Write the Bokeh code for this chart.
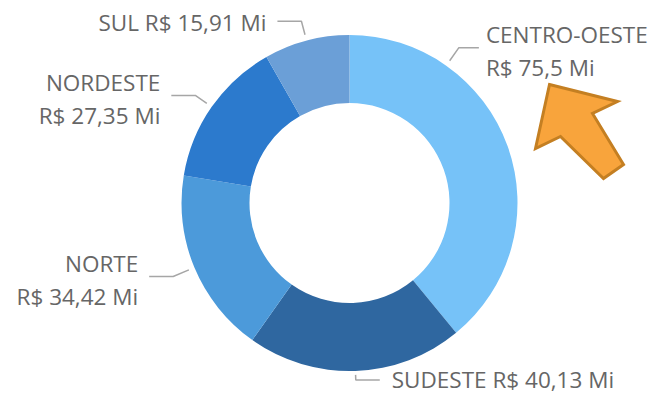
import numpy as np
from bokeh.plotting import figure
from bokeh.models import Range1d, ColumnDataSource
from bokeh.core.properties import value
from bokeh.embed import file_html
from bokeh.resources import INLINE

# ---- data ----
regions = ["CENTRO-OESTE", "SUDESTE", "NORTE", "NORDESTE", "SUL"]
values = [75.5, 40.13, 34.42, 27.35, 15.91]
colors = ["#76C2F8", "#2F67A0", "#4C9ADA", "#2C7ACD", "#6B9FD7"]

# ---- layout / style ----
W, H = 648, 395
CX, CY = 349, 206.5          # donut centre (reference pixels)
DY = 4                        # small upward shift so every label fits
R_OUT, R_IN = 168, 100
label_wrap = [True, False, True, True, False]
leader_pos = [0.25, 0.5, 0.5, 0.5, 0.5]
leader_r0 = [174, 172, 174, 174, 174]
leader_r1 = [190, 177, 191, 188, 188]
leader_hor = [20, 24, 24, 24, 24]
label_gap = [7, 12, 11, 11, 11]
label_dy = [-3.5, 0.5, -3.5, -3.5, -1.5]
FONT = "Open Sans"
FSIZE = "22.5px"
TXT_COLOR = "#666666"
LEADER_COLOR = "#A6A6A6"


def fmt(v):
    return "R$ " + f"{v:g}".replace(".", ",") + " Mi"


total = float(sum(values))
fr = np.array(values) / total
cum_end = np.cumsum(fr)
cum_start = cum_end - fr

src = ColumnDataSource(dict(
    start=np.pi / 2 - 2 * np.pi * cum_end,
    end=np.pi / 2 - 2 * np.pi * cum_start,
    color=colors,
    name=regions,
))

y_end = CY - DY
p = figure(width=W, height=H, output_backend="svg", toolbar_location=None,
           x_range=Range1d(-CX, W - CX), y_range=Range1d(y_end - H, y_end),
           x_axis_location=None, y_axis_location=None,
           min_border=0, min_border_left=0, min_border_right=0,
           min_border_top=0, min_border_bottom=0)
p.grid.visible = False
p.outline_line_color = None
p.background_fill_color = "white"
p.border_fill_color = "white"

p.annular_wedge(x=0, y=0, inner_radius=R_IN, outer_radius=R_OUT,
                start_angle="start", end_angle="end", color="color",
                line_color=None, source=src)

# leader lines and labels
lx, ly = [], []
tx, ty, tt, ta = [], [], [], []
for i, name in enumerate(regions):
    th = 2 * np.pi * (cum_start[i] + leader_pos[i] * fr[i])
    s, c = np.sin(th), np.cos(th)
    side = 1 if s >= 0 else -1
    x0, y0 = leader_r0[i] * s, leader_r0[i] * c
    x1, y1 = leader_r1[i] * s, leader_r1[i] * c
    x2, y2 = x1 + side * leader_hor[i], y1
    lx.append([x0, x1, x2])
    ly.append([y0, y1, y2])
    gx = x2 + side * label_gap[i]
    al = "left" if side > 0 else "right"
    if label_wrap[i]:
        for t, dy in ((name, 16.5), (fmt(values[i]), -16.5)):
            tx.append(gx); ty.append(y1 + label_dy[i] + dy); tt.append(t); ta.append(al)
    else:
        tx.append(gx); ty.append(y1 + label_dy[i]); tt.append(name + " " + fmt(values[i])); ta.append(al)

p.multi_line(xs=lx, ys=ly, line_color=LEADER_COLOR, line_width=1.5)
p.text(x=tx, y=ty, text=tt, text_align=ta, text_baseline="middle",
       text_font=value(FONT), text_font_size=FSIZE, text_color=TXT_COLOR)

# orange arrow (decoration), reference pixel vertices
arrow_x = [549, 617, 592, 623, 603, 560, 535]
arrow_y = [88, 105, 117, 168, 182, 140, 152]
p.patch(x=[a - CX for a in arrow_x], y=[CY - b for b in arrow_y],
        fill_color="#F8A43C", line_color="#C47F22", line_width=3,
        line_join="miter")

open("out.html", "w").write(file_html(p, INLINE))
